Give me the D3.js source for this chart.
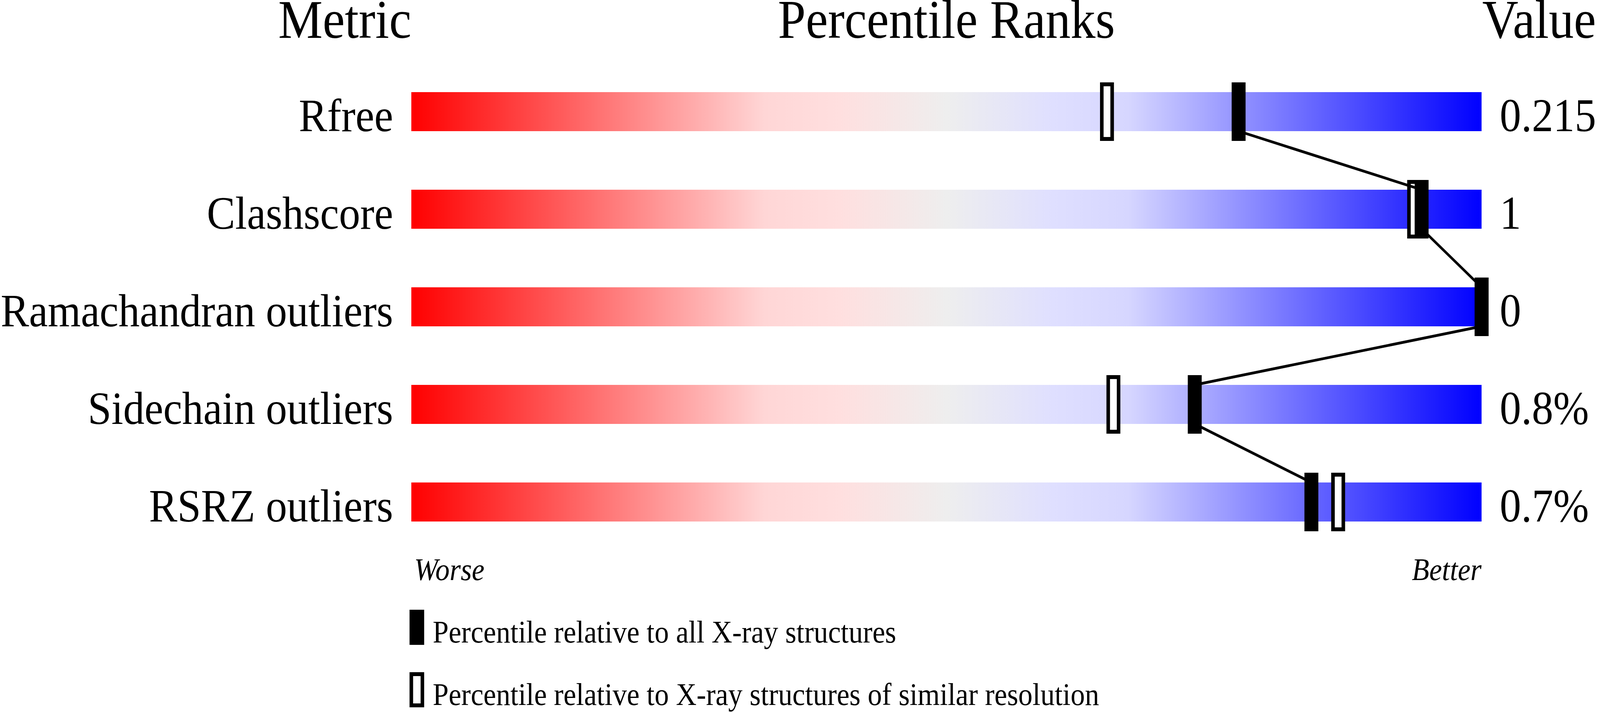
<!DOCTYPE html>
<html>
<head>
<meta charset="utf-8">
<script src="https://cdn.jsdelivr.net/npm/d3@7"></script>
<style>
  html, body { margin: 0; padding: 0; background: #fff; overflow: hidden; }
  svg { display: block; font-family: "Liberation Serif", "Times New Roman", serif; }
</style>
</head>
<body>
<div id="chart"></div>
<script>
const metrics = ["Rfree", "Clashscore", "Ramachandran outliers", "Sidechain outliers", "RSRZ outliers"];
const values = ["0.215", "1", "0", "0.8%", "0.7%"];
// percentile vs all X-ray structures (filled marker)
const pctAll = [77.3, 94.4, 100, 73.2, 84.1];
// percentile vs structures of similar resolution (open marker)
const pctRes = [65.0, 93.7, 100, 65.6, 86.6];
const legendLabels = [
  "Percentile relative to all X-ray structures",
  "Percentile relative to X-ray structures of similar resolution"
];

const width = 4485;
const height = 1824;

// stretch the drawing over the whole viewport, whatever size it really has
const svg = d3.select("#chart")
  .append("svg")
  .attr("viewBox", `0 0 ${width} ${height}`)
  .attr("preserveAspectRatio", "none")
  .style("width", "100vw")
  .style("height", "100vh");

const x = d3.scaleLinear().domain([0, 100]).range([1153, 4153]);
const y = d3.scaleBand()
  .domain(metrics)
  .range([161, 1411])
  .paddingInner(0.6)
  .paddingOuter(0.3);

const rows = metrics.map((m, i) => ({ metric: m, value: values[i], all: pctAll[i], res: pctRes[i] }));

// gradient: red -> pale pink -> grey -> lavender -> blue
const grad = svg.append("defs")
  .append("linearGradient")
  .attr("id", "slider")
  .attr("x1", "0%").attr("x2", "100%").attr("y1", "0%").attr("y2", "0%");
[
  [0, "#ff0000"],
  [0.33, "#ffd6d6"],
  [0.4, "#ffdfdf"],
  [0.5, "#eeeeee"],
  [0.6, "#dfdfff"],
  [0.67, "#d6d6ff"],
  [1, "#0000ff"]
].forEach(([o, c]) => grad.append("stop").attr("offset", o).attr("stop-color", c));

// headers
const header = svg.append("g").attr("font-size", 140).attr("fill", "#000");
header.append("text").attr("x", x(0)).attr("y", 97).attr("text-anchor", "end").text("Metric");
header.append("text").attr("x", (x(0) + x(100)) / 2).attr("y", 97).attr("text-anchor", "middle").text("Percentile Ranks");
header.append("text").attr("x", x(100) + 2).attr("y", 97).text("Value");

// bars
svg.append("g")
  .selectAll("rect")
  .data(rows)
  .join("rect")
  .attr("x", x(0))
  .attr("y", (d) => y(d.metric))
  .attr("width", x(100) - x(0))
  .attr("height", y.bandwidth())
  .attr("fill", "url(#slider)");

// metric labels
svg.append("g")
  .selectAll("text")
  .data(rows)
  .join("text")
  .attr("x", x(0) - 51)
  .attr("y", (d) => y(d.metric) + y.bandwidth())
  .attr("text-anchor", "end")
  .attr("font-size", 119)
  .text((d) => d.metric);

// values
svg.append("g")
  .selectAll("text")
  .data(rows)
  .join("text")
  .attr("x", x(100) + 51)
  .attr("y", (d) => y(d.metric) + y.bandwidth())
  .attr("font-size", 120)
  .text((d) => d.value);

const markW = 39;
const markOver = 25;

// open markers (similar resolution)
svg.append("g")
  .selectAll("rect")
  .data(rows)
  .join("rect")
  .attr("x", (d) => x(d.res) - markW / 2 + 5)
  .attr("y", (d) => y(d.metric) - markOver + 5)
  .attr("width", markW - 10)
  .attr("height", y.bandwidth() + 2 * markOver - 10)
  .attr("fill", "#fff")
  .attr("stroke", "#000")
  .attr("stroke-width", 10);

// connecting line through filled markers
const linePts = [];
rows.forEach((d, i) => {
  if (i > 0) linePts.push([x(d.all), y(d.metric)]);
  if (i < rows.length - 1) linePts.push([x(d.all), y(d.metric) + y.bandwidth()]);
});
svg.append("path")
  .attr("d", d3.line()(linePts))
  .attr("fill", "none")
  .attr("stroke", "#000")
  .attr("stroke-width", 7)
  .attr("stroke-linejoin", "round");

// filled markers (all structures)
svg.append("g")
  .selectAll("rect")
  .data(rows)
  .join("rect")
  .attr("x", (d) => x(d.all) - markW / 2)
  .attr("y", (d) => y(d.metric) - markOver)
  .attr("width", markW)
  .attr("height", y.bandwidth() + 2 * markOver)
  .attr("fill", "#000");

// worse / better
svg.append("text")
  .attr("x", x(0) + 8).attr("y", 1486)
  .attr("font-size", 80).attr("font-style", "italic")
  .text("Worse");
svg.append("text")
  .attr("x", x(100)).attr("y", 1486)
  .attr("text-anchor", "end")
  .attr("font-size", 80).attr("font-style", "italic")
  .text("Better");

// legend
const legend = svg.append("g")
  .selectAll("g")
  .data(legendLabels)
  .join("g")
  .attr("transform", (d, i) => `translate(1148,${1562 + i * 160})`);

legend.append("rect")
  .attr("x", (d, i) => (i === 0 ? 0 : 5))
  .attr("y", (d, i) => (i === 0 ? 0 : 5))
  .attr("width", (d, i) => (i === 0 ? 41 : 31))
  .attr("height", (d, i) => (i === 0 ? 90 : 80))
  .attr("fill", (d, i) => (i === 0 ? "#000" : "#fff"))
  .attr("stroke", (d, i) => (i === 0 ? "none" : "#000"))
  .attr("stroke-width", 10);

legend.append("text")
  .attr("x", 65)
  .attr("y", 84)
  .attr("font-size", 80)
  .text((d) => d);
</script>
</body>
</html>
